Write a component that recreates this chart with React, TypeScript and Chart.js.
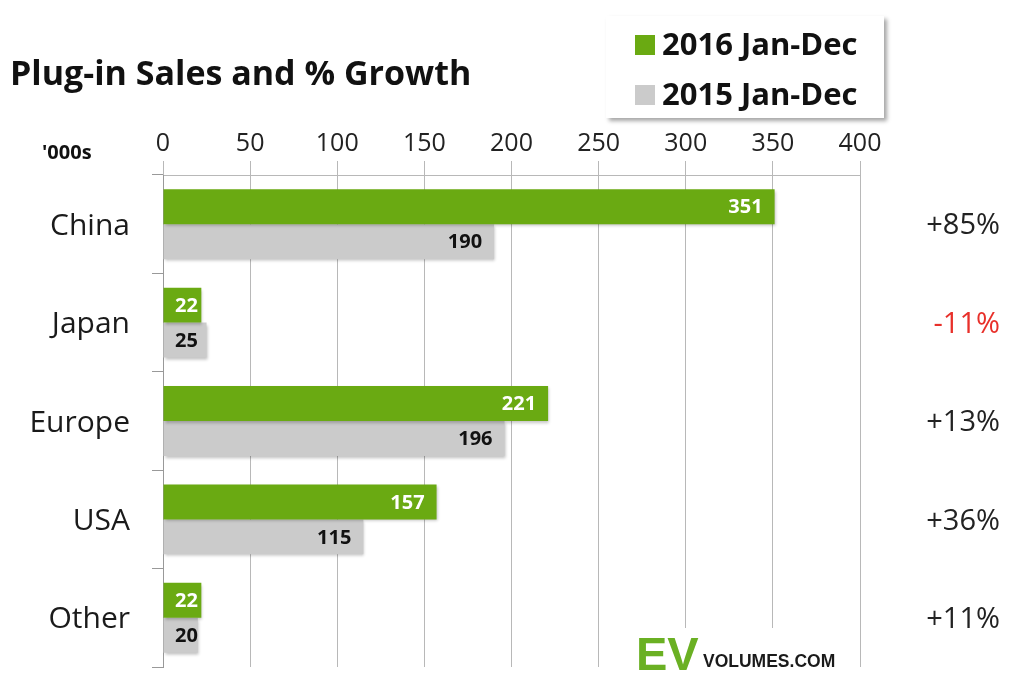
import React, { useEffect, useRef } from "react";
import { Chart, registerables } from "chart.js";

Chart.register(...registerables);

const categories = ["China", "Japan", "Europe", "USA", "Other"];
const sales2016 = [351, 22, 221, 157, 22];
const sales2015 = [190, 25, 196, 115, 20];
const growthLabels = ["+85%", "-11%", "+13%", "+36%", "+11%"];
const seriesNames = ["2016 Jan-Dec", "2015 Jan-Dec"];

const GREEN = "#6aaa12";
const GRAY = "#cbcbcb";
const FONT = "'Open Sans', 'DejaVu Sans', sans-serif";

const overlayPlugin = {
  id: "overlay",
  beforeDatasetsDraw(chart: any) {
    const ctx = chart.ctx;
    ctx.save();
    ctx.shadowColor = "rgba(0,0,0,0.25)";
    ctx.shadowBlur = 3;
    ctx.shadowOffsetX = 1;
    ctx.shadowOffsetY = 2;
  },
  afterDatasetsDraw(chart: any) {
    const ctx = chart.ctx;
    ctx.restore();
    ctx.save();
    const left = chart.chartArea.left;
    chart.data.datasets.forEach((ds: any, di: number) => {
      const meta = chart.getDatasetMeta(di);
      meta.data.forEach((bar: any, i: number) => {
        ctx.font = `bold 20px ${FONT}`;
        ctx.fillStyle = di === 0 ? "#ffffff" : "#111111";
        ctx.textAlign = "right";
        ctx.textBaseline = "middle";
        const txt = String(ds.data[i]);
        const w = ctx.measureText(txt).width;
        const x = Math.max(bar.x - 12, left + 12 + w);
        ctx.fillText(txt, x, bar.y + 1);
      });
    });
    const yScale = chart.scales.y;
    categories.forEach((c, i) => {
      const y = yScale.getPixelForValue(i);
      ctx.font = `30px ${FONT}`;
      ctx.fillStyle = "#1a1a1a";
      ctx.textAlign = "right";
      ctx.textBaseline = "middle";
      ctx.fillText(c, 130, y + 2);
    });
    growthLabels.forEach((g, i) => {
      const y = yScale.getPixelForValue(i);
      ctx.font = `29px ${FONT}`;
      ctx.fillStyle = g.startsWith("-") ? "#e8302a" : "#222222";
      ctx.textAlign = "right";
      ctx.textBaseline = "middle";
      ctx.fillText(g, 1000, y + 2);
    });
    ctx.restore();
  },
  afterDraw(chart: any) {
    const ctx = chart.ctx;
    ctx.save();
    ctx.fillStyle = "#111111";
    ctx.font = `bold 34px ${FONT}`;
    ctx.textAlign = "left";
    ctx.textBaseline = "middle";
    ctx.fillText("Plug-in Sales and % Growth", 10, 75);
    ctx.font = `bold 20px ${FONT}`;
    ctx.fillText("'000s", 42, 153);
    ctx.save();
    ctx.shadowColor = "rgba(0,0,0,0.35)";
    ctx.shadowBlur = 4;
    ctx.shadowOffsetX = 3;
    ctx.shadowOffsetY = 3;
    ctx.fillStyle = "#ffffff";
    ctx.fillRect(606, 16, 278, 102);
    ctx.restore();
    const colors = [GREEN, GRAY];
    seriesNames.forEach((n, i) => {
      const cy = 45 + i * 50;
      ctx.fillStyle = colors[i];
      ctx.fillRect(635, cy - 10, 20, 20);
      ctx.fillStyle = "#111111";
      ctx.font = `bold 31px ${FONT}`;
      ctx.textAlign = "left";
      ctx.textBaseline = "middle";
      ctx.fillText(n, 662, cy + 1);
    });
    ctx.fillStyle = "#ffffff";
    ctx.fillRect(625, 628, 222, 45);
    ctx.fillStyle = "#6ab023";
    ctx.font = `bold 47px 'Liberation Sans', Arial, sans-serif`;
    ctx.textAlign = "left";
    ctx.textBaseline = "alphabetic";
    ctx.fillText("EV", 636, 670);
    ctx.fillStyle = "#1a1a1a";
    ctx.font = `bold 17.5px 'Liberation Sans', Arial, sans-serif`;
    ctx.fillText("VOLUMES.COM", 703, 667);
    ctx.restore();
  },
};

export default function App() {
  const ref = useRef<HTMLCanvasElement>(null);
  useEffect(() => {
    if (!ref.current) return;
    const chart = new Chart(ref.current, {
      type: "bar",
      data: {
        labels: categories,
        datasets: [
          { label: seriesNames[0], data: sales2016, backgroundColor: GREEN, barPercentage: 1, categoryPercentage: 0.71 },
          { label: seriesNames[1], data: sales2015, backgroundColor: GRAY, barPercentage: 1, categoryPercentage: 0.71 },
        ],
      },
      options: {
        indexAxis: "y",
        animation: false,
        responsive: false,
        devicePixelRatio: 1,
        layout: { padding: { left: 0, right: 163, top: 0, bottom: 28 } },
        plugins: { legend: { display: false }, tooltip: { enabled: false }, title: { display: false } },
        scales: {
          x: {
            position: "top",
            min: 0,
            max: 400,
            ticks: { stepSize: 50, color: "#222222", font: { family: FONT, size: 25 }, padding: 2 },
            grid: { color: "#b8b8b8", lineWidth: 1, tickLength: 14, drawTicks: true },
            border: { display: true, color: "#b8b8b8" },
            afterFit: (s: any) => { s.height = 175; },
          },
          y: {
            ticks: { display: false },
            grid: { drawOnChartArea: false, drawTicks: true, tickLength: 11, color: "#999999", offset: true },
            border: { display: true, color: "#999999" },
            afterFit: (s: any) => { s.width = 163; },
          },
        },
      },
      plugins: [overlayPlugin],
    } as any);
    return () => chart.destroy();
  }, []);
  return (
    <div style={{ position: "fixed", left: 0, top: 0, width: 1023, height: 695, background: "#fff" }}>
      <canvas ref={ref} width={1023} height={695} style={{ width: 1023, height: 695 }} />
    </div>
  );
}
